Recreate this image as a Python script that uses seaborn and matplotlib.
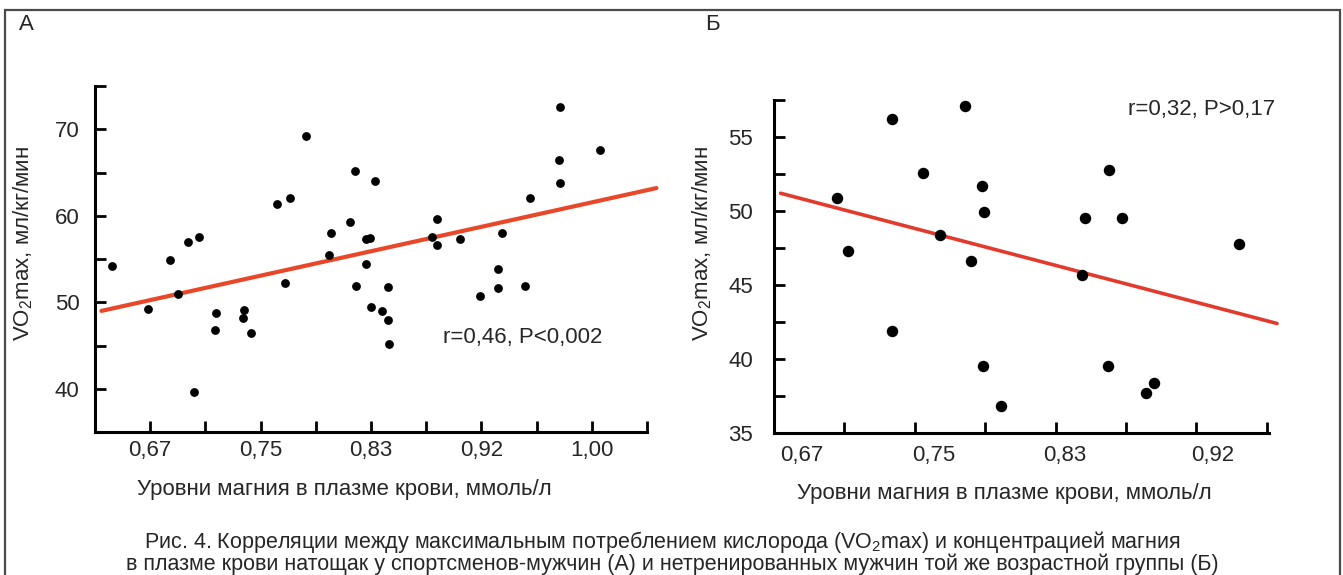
import numpy as np
import pandas as pd
import matplotlib
matplotlib.use("Agg")
import matplotlib.pyplot as plt
import matplotlib.patches as mpatches
from matplotlib.ticker import FixedLocator
import seaborn as sns

# ---------------- data ----------------
# Panel A: trained male athletes
a_mg = [0.6415, 0.6846, 0.6981, 0.7066, 0.6907, 0.7648, 0.7742, 0.7865, 0.8052, 0.8039,
        0.7709, 0.8191, 0.8230, 0.8379, 0.8311, 0.8343, 0.8311, 0.8237, 0.8479, 0.8803,
        0.8842, 0.8842, 0.9016, 0.9327, 0.9298, 0.9298, 0.9165, 0.9498, 0.9537, 0.9764,
        0.9757, 0.9764, 1.0064, 0.6684, 0.7195, 0.7185, 0.7405, 0.7396, 0.7454, 0.7030,
        0.8350, 0.8431, 0.8479, 0.8486]
a_vo2 = [54.2, 54.9, 57.0, 57.5, 51.0, 61.4, 62.1, 69.2, 58.0, 55.5,
         52.2, 59.3, 65.2, 64.0, 57.3, 57.4, 54.4, 51.9, 51.8, 57.6,
         59.6, 56.6, 57.3, 58.0, 53.9, 51.6, 50.7, 51.9, 62.0, 72.6,
         66.5, 63.8, 67.6, 49.2, 48.8, 46.8, 49.1, 48.2, 46.5, 39.6,
         49.4, 49.0, 48.0, 45.2]
a_fit_mg = [0.6336, 1.0483]
a_fit_vo2 = [49.0, 63.2]
a_xtick_labels = ["0,67", "0,75", "0,83", "0,92", "1,00"]
a_ytick_labels = ["40", "50", "60", "70"]
a_note = "r=0,46, P<0,002"

# Panel Б: untrained men of the same age
b_mg = [0.6916, 0.6983, 0.7247, 0.7435, 0.7540, 0.7695, 0.7728, 0.7795, 0.7805, 0.8404,
        0.8419, 0.8568, 0.8648, 0.9354, 0.7250, 0.7800, 0.7913, 0.8560, 0.8789, 0.8838]
b_vo2 = [50.9, 47.3, 56.2, 52.6, 48.4, 57.1, 46.6, 51.7, 49.9, 45.7,
         49.5, 52.8, 49.5, 47.8, 41.9, 39.5, 36.8, 39.5, 37.7, 38.4]
b_fit_mg = [0.6572, 0.9588]
b_fit_vo2 = [51.2, 42.4]
b_xtick_labels = ["0,67", "0,75", "0,83", "0,92"]
b_ytick_labels = ["35", "40", "45", "50", "55"]
b_note = "r=0,32, P>0,17"

xlabel = "Уровни магния в плазме крови, ммоль/л"
ylabel = "VO$_2$max, мл/кг/мин"
caption1 = "Рис. 4. Корреляции между максимальным потреблением кислорода (VO$_2$max) и концентрацией магния"
caption2 = "в плазме крови натощак у спортсменов-мужчин (А) и нетренированных мужчин той же возрастной группы (Б)"

# ---------------- style ----------------
sns.set_theme(style="white")
plt.rcParams["font.family"] = ["Liberation Sans", "DejaVu Sans"]
plt.rcParams["mathtext.default"] = "regular"

W, H = 1343, 575
fig = plt.figure(figsize=(W / 100, H / 100), dpi=100)
FS = 16

def px_rect(x0, x1, ytop, ybot):
    return [x0 / W, 1 - ybot / H, (x1 - x0) / W, (ybot - ytop) / H]

axA = fig.add_axes(px_rect(95, 658.7, 86, 432))
axB = fig.add_axes(px_rect(774, 1282.3, 100, 433))

dfA = pd.DataFrame({"mg": a_mg, "vo2": a_vo2})
dfB = pd.DataFrame({"mg": b_mg, "vo2": b_vo2})
fitA = pd.DataFrame({"mg": a_fit_mg, "vo2": a_fit_vo2})
fitB = pd.DataFrame({"mg": b_fit_mg, "vo2": b_fit_vo2})

sns.lineplot(data=fitA, x="mg", y="vo2", ax=axA, color="#E8472A", linewidth=3.0, zorder=2)
sns.scatterplot(data=dfA, x="mg", y="vo2", ax=axA, color="black", s=40, linewidth=0, zorder=3)
sns.lineplot(data=fitB, x="mg", y="vo2", ax=axB, color="#E23B2E", linewidth=2.6, zorder=2)
sns.scatterplot(data=dfB, x="mg", y="vo2", ax=axB, color="black", s=68, linewidth=0, zorder=3)

def style_axes(ax, xlim, ylim, xb, yb):
    ax.set_xlim(*xlim)
    ax.set_ylim(*ylim)
    for s in ["top", "right"]:
        ax.spines[s].set_visible(False)
    for s in ["left", "bottom"]:
        ax.spines[s].set_color("black")
        ax.spines[s].set_linewidth(2.2)
    ax.spines["bottom"].set_bounds(*xb)
    ax.spines["left"].set_bounds(*yb)
    ax.set_xlabel("")
    ax.set_ylabel("")
    ax.patch.set_alpha(0)
    ax.tick_params(which="both", bottom=True, left=True, top=False, right=False)

# Panel A axes
style_axes(axA, (0.6288, 1.05), (35, 75), (0.6288, 1.0413), (35, 75))
a_xpos = np.linspace(0.67, 1.00, len(a_xtick_labels))
axA.set_xticks(a_xpos, a_xtick_labels)
axA.xaxis.set_minor_locator(FixedLocator(np.arange(0.62875, 1.045, 0.04125)))
a_ypos = [float(v) for v in a_ytick_labels]
axA.set_yticks(a_ypos, a_ytick_labels)
axA.yaxis.set_minor_locator(FixedLocator(np.arange(35, 75.1, 5)))
axA.tick_params(axis="x", which="both", direction="in", length=8, width=2, color="black",
                labelsize=FS, pad=6)
axA.tick_params(axis="y", which="both", direction="in", length=8, width=2, color="black",
                labelsize=FS, pad=11)
axA.text(0.617, 0.272, a_note, transform=axA.transAxes, fontsize=FS, ha="left", va="center")

# Panel B axes
style_axes(axB, (0.6532, 0.962), (35, 57.5), (0.6532, 0.9541), (35, 57.5))
axB.set_xticks([float(v.replace(",", ".")) for v in b_xtick_labels], b_xtick_labels)
axB.xaxis.set_minor_locator(FixedLocator(np.arange(0.6532, 0.956, 0.04277)))
b_ypos = [float(v) for v in b_ytick_labels]
axB.set_yticks(b_ypos, b_ytick_labels)
axB.yaxis.set_minor_locator(FixedLocator(np.arange(35, 57.6, 2.5)))
axB.tick_params(axis="x", which="major", length=0, labelsize=FS, pad=9)
axB.tick_params(axis="x", which="minor", direction="in", length=8, width=2, color="black")
axB.tick_params(axis="y", which="both", direction="in", length=8, width=2, color="black",
                labelsize=FS, pad=15)
axB.text(0.696, 0.970, b_note, transform=axB.transAxes, fontsize=FS, ha="left", va="center")

# axis titles
fig.text(344.5 / W, 1 - 489 / H, xlabel, fontsize=FS, ha="center", va="center")
fig.text(1004.5 / W, 1 - 493 / H, xlabel, fontsize=FS, ha="center", va="center")
fig.text(23 / W, 1 - 244 / H, ylabel, fontsize=FS, ha="center", va="center", rotation=90)
fig.text(702 / W, 1 - 244 / H, ylabel, fontsize=FS, ha="center", va="center", rotation=90)

# panel letters
fig.text(19 / W, 1 - 24 / H, "А", fontsize=FS, ha="left", va="center")
fig.text(705 / W, 1 - 24 / H, "Б", fontsize=FS, ha="left", va="center")

# caption
fig.text(662 / W, 1 - 542 / H, caption1, fontsize=15.5, ha="center", va="center")
fig.text(672 / W, 1 - 564 / H, caption2, fontsize=15.5, ha="center", va="center")

# frame
fig.patches.append(mpatches.Rectangle((5 / W, -0.05), 1335 / W, 1.05 - 10 / H,
                                      transform=fig.transFigure, fill=False,
                                      edgecolor="#4a4a4a", linewidth=1.6))

fig.savefig("out.png", dpi=100)
